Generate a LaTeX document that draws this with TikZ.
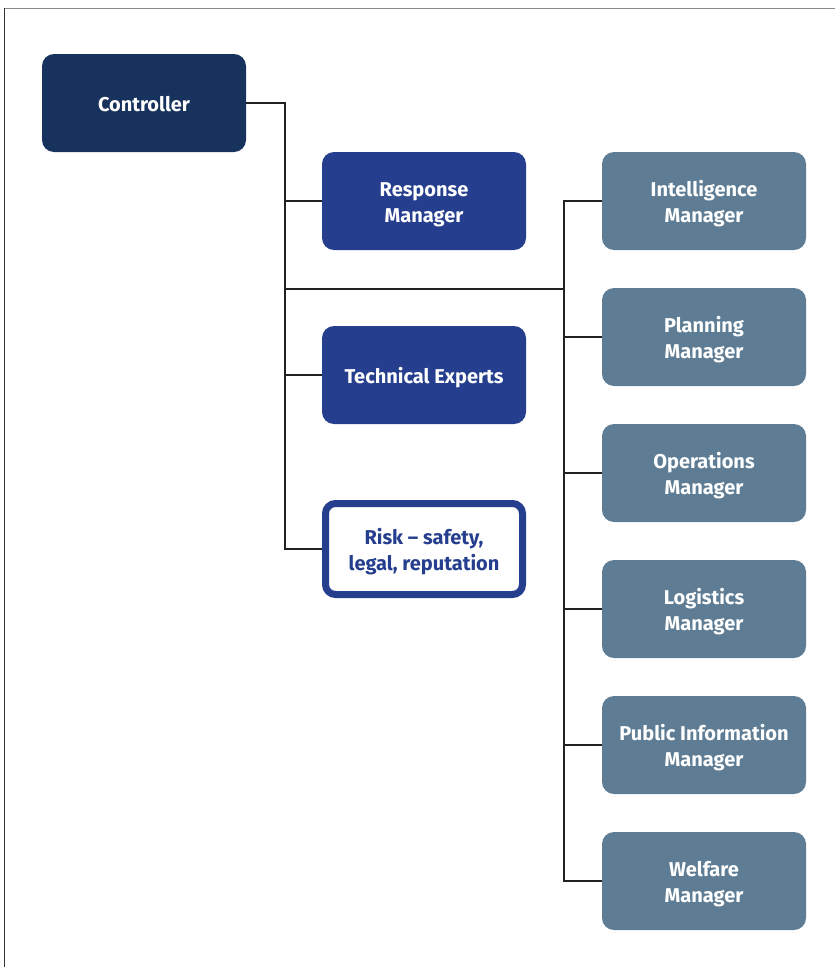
\documentclass[tikz,border=0pt]{standalone}
\usepackage{fontspec}
\setmainfont{Fira Sans}
% centred label block, lowered slightly inside its box (reported size unchanged)
\newcommand{\boxlabel}[1]{\raisebox{-3pt}[\height][\depth]{\begin{tabular}{@{}c@{}}#1\end{tabular}}}
\begin{document}
\begin{tikzpicture}[x=1pt,y=-1pt,
  box/.style={rounded corners=12pt, minimum width=204pt, minimum height=98pt,
    inner sep=0pt, font=\fontsize{20}{26}\selectfont\bfseries, text=white},
  ctrl/.style={box, fill=ctrlblue},
  mid/.style={box, fill=midblue},
  risk/.style={box, fill=white, draw=midblue, line width=7pt, minimum width=197pt, minimum height=91pt, rounded corners=10pt, text=midblue},
  side/.style={box, fill=slate},
  link/.style={draw=linegray, line width=1.8pt}]
\definecolor{ctrlblue}{HTML}{17325C}
\definecolor{midblue}{HTML}{253F8E}
\definecolor{slate}{HTML}{5E7D94}
\definecolor{linegray}{HTML}{222222}
\useasboundingbox (0,0) rectangle (835,967);
% frame
\draw[line width=1.5pt, draw=gray!90] (4,8.5) -- (835,8.5);
\draw[line width=1.5pt, draw=black!80] (4.5,8) -- (4.5,967);

% nodes
\node[ctrl] (ctrl) at (144,103) {\boxlabel{Controller}};
\node[mid] (resp) at (424,201) {\boxlabel{Response\\Manager}};
\node[mid] (tech) at (424,375) {\boxlabel{Technical Experts}};
\node[risk] (risk) at (424,549) {\boxlabel{Risk – safety,\\legal, reputation}};
\node[side] (intel) at (704,201) {\boxlabel{Intelligence\\Manager}};
\node[side] (plan) at (704,337) {\boxlabel{Planning\\Manager}};
\node[side] (ops) at (704,473) {\boxlabel{Operations\\Manager}};
\node[side] (log) at (704,609) {\boxlabel{Logistics\\Manager}};
\node[side] (pub) at (704,745) {\boxlabel{Public Information\\Manager}};
\node[side] (welf) at (704,881) {\boxlabel{Welfare\\Manager}};

% junctions
\coordinate (spine) at (285,0);
\coordinate (rspine) at (564,0);
\coordinate (cross) at (285,289);
\coordinate (rcross) at (564,289);

% connectors
\draw[link] (ctrl.east) -| (spine |- risk.west) -- (risk.west);
\draw[link] (spine |- resp.west) -- (resp.west);
\draw[link] (spine |- tech.west) -- (tech.west);
\draw[link] (cross) -- (rcross);
\draw[link] (intel.west) -| (rspine |- welf.west) -- (welf.west);
\draw[link] (rspine |- plan.west) -- (plan.west);
\draw[link] (rspine |- ops.west) -- (ops.west);
\draw[link] (rspine |- log.west) -- (log.west);
\draw[link] (rspine |- pub.west) -- (pub.west);
\end{tikzpicture}
\end{document}
